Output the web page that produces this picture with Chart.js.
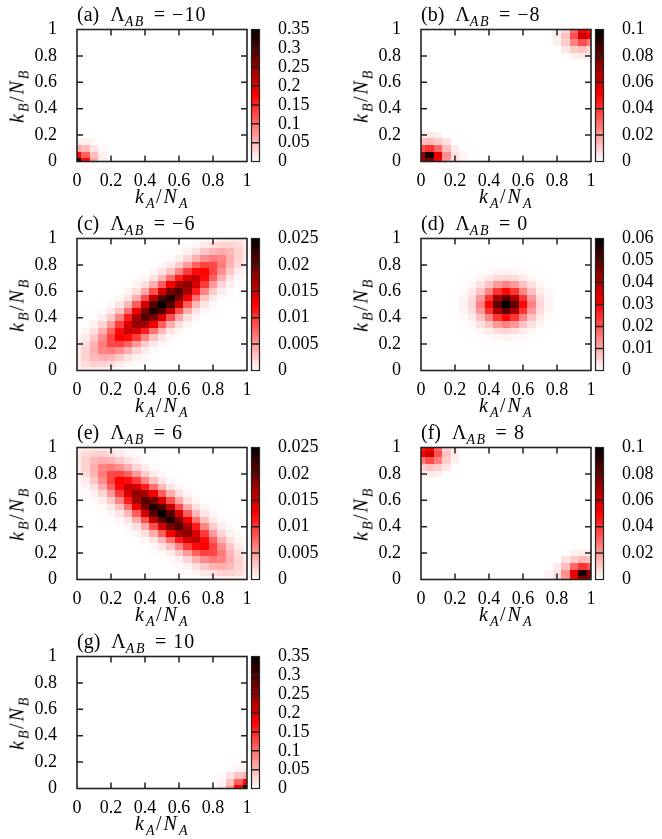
<!DOCTYPE html>
<html>
<head>
<meta charset="utf-8">
<script src="https://cdn.jsdelivr.net/npm/chart.js@4.4.1/dist/chart.umd.min.js"></script>
<style>
    html, body { margin: 0; padding: 0; background: #fff; }
    body { width: 662px; height: 839px; position: relative; overflow: hidden; font-family: "Liberation Serif", serif; color: #000; }
    .panel { position: absolute; height: 209px; }
    .panel canvas { position: absolute; left: 0; top: 0; }
    .ttl, .xl, .yl { position: absolute; font-size: 20px; line-height: 20px; white-space: nowrap; }
    .ttl { left: 77px; top: 4px; }
    .xl { left: 162px; top: 186px; transform: translateX(-50%); letter-spacing: 2px; }
    .yl { left: 18px; top: 96px; transform: translate(-50%, -50%) rotate(-90deg); letter-spacing: 2px; }
    .s { font-size: 14px; position: relative; top: 5px; letter-spacing: 1.5px; }
    .op { margin: 0 7px 0 9px; }
    .tag { margin-right: 6px; }
    .num { letter-spacing: 1px; }
</style>
</head>
<body>
<div id="figure"></div>
<script>
// P(k_A, k_B) maps, N_A = N_B = 20, cells centred on k/N
const gridN = 20;
const axisTicks = [0, 0.2, 0.4, 0.6, 0.8, 1];
const panelTags = ['(a)', '(b)', '(c)', '(d)', '(e)', '(f)', '(g)'];
const lambdaValues = ['−10', '−8', '−6', '0', '6', '8', '10'];

// colour bar ticks per panel
const cbTicksA = [0, 0.05, 0.1, 0.15, 0.2, 0.25, 0.3, 0.35];
const cbTicksB = [0, 0.02, 0.04, 0.06, 0.08, 0.1];
const cbTicksC = [0, 0.005, 0.01, 0.015, 0.02, 0.025];
const cbTicksD = [0, 0.01, 0.02, 0.03, 0.04, 0.05, 0.06];

// sparse cells: [kA index, kB index, P]
const cellsA = [
    [0, 0, 0.35], [1, 0, 0.17], [0, 1, 0.17], [1, 1, 0.11],
    [2, 0, 0.06], [0, 2, 0.06], [2, 1, 0.045], [1, 2, 0.045], [2, 2, 0.02],
    [3, 0, 0.012], [0, 3, 0.012], [3, 1, 0.01], [1, 3, 0.01],
    [3, 2, 0.005], [2, 3, 0.005], [4, 0, 0.003], [0, 4, 0.003]
];
const cellsB = [
    [0, 0, 0.07], [1, 0, 0.075], [0, 1, 0.07], [1, 1, 0.095],
    [2, 0, 0.05], [2, 1, 0.055], [0, 2, 0.035], [1, 2, 0.04], [2, 2, 0.03],
    [3, 0, 0.02], [3, 1, 0.022], [3, 2, 0.013], [0, 3, 0.012], [1, 3, 0.014], [2, 3, 0.01],
    [3, 3, 0.006], [4, 0, 0.006], [4, 1, 0.006], [4, 2, 0.004], [0, 4, 0.004], [1, 4, 0.004],
    [2, 4, 0.003], [5, 0, 0.002], [5, 1, 0.002],
    [19, 19, 0.06], [20, 20, 0.045], [20, 19, 0.05], [19, 20, 0.05],
    [18, 19, 0.035], [19, 18, 0.035], [18, 18, 0.025], [20, 18, 0.025], [18, 20, 0.03],
    [17, 19, 0.012], [19, 17, 0.012], [17, 18, 0.01], [18, 17, 0.01], [17, 20, 0.008], [20, 17, 0.008],
    [16, 19, 0.004], [19, 16, 0.004], [17, 17, 0.005], [16, 20, 0.003], [20, 16, 0.003],
    [16, 18, 0.003], [18, 16, 0.003]
];
const cellsF = [
    [20, 0, 0.07], [19, 0, 0.075], [20, 1, 0.07], [19, 1, 0.095],
    [18, 0, 0.05], [18, 1, 0.055], [20, 2, 0.035], [19, 2, 0.04], [18, 2, 0.03],
    [17, 0, 0.02], [17, 1, 0.022], [17, 2, 0.013], [20, 3, 0.012], [19, 3, 0.014], [18, 3, 0.01],
    [17, 3, 0.006], [16, 0, 0.006], [16, 1, 0.006], [16, 2, 0.004], [20, 4, 0.004], [19, 4, 0.004],
    [18, 4, 0.003], [15, 0, 0.002], [15, 1, 0.002],
    [1, 19, 0.06], [0, 20, 0.045], [0, 19, 0.05], [1, 20, 0.05],
    [2, 19, 0.035], [1, 18, 0.035], [2, 18, 0.025], [0, 18, 0.025], [2, 20, 0.03],
    [3, 19, 0.012], [1, 17, 0.012], [3, 18, 0.01], [2, 17, 0.01], [3, 20, 0.008], [0, 17, 0.008],
    [4, 19, 0.004], [1, 16, 0.004], [3, 17, 0.005], [4, 20, 0.003], [0, 16, 0.003],
    [4, 18, 0.003], [2, 16, 0.003]
];
const cellsG = [
    [20, 0, 0.35], [19, 0, 0.17], [20, 1, 0.17], [19, 1, 0.11],
    [18, 0, 0.06], [20, 2, 0.055], [18, 1, 0.042], [19, 2, 0.042], [18, 2, 0.02],
    [17, 0, 0.011], [20, 3, 0.011], [17, 1, 0.008], [19, 3, 0.008],
    [17, 2, 0.004], [18, 3, 0.004], [16, 0, 0.003], [20, 4, 0.003]
];

// dense rows, kB = 0 (first) .. 20 (last), kA = 0 .. 20
const rowsC = [
    [.0008, .001, .0011, .0009, .0006, .0003, .0001, 0, 0, 0, 0, 0, 0, 0, 0, 0, 0, 0, 0, 0, 0],
    [.001, .0018, .0022, .0022, .0017, .001, .0005, .0002, .0001, 0, 0, 0, 0, 0, 0, 0, 0, 0, 0, 0, 0],
    [.0011, .0022, .0035, .004, .0037, .0027, .0015, .0007, .0003, .0001, 0, 0, 0, 0, 0, 0, 0, 0, 0, 0, 0],
    [.0009, .0022, .004, .006, .0065, .0056, .0039, .0021, .0009, .0003, .0001, 0, 0, 0, 0, 0, 0, 0, 0, 0, 0],
    [.0006, .0017, .0037, .0065, .009, .0092, .0078, .005, .0026, .0011, .0004, .0001, 0, 0, 0, 0, 0, 0, 0, 0, 0],
    [.0003, .001, .0027, .0056, .0092, .0125, .012, .0096, .006, .0031, .0013, .0004, .0001, 0, 0, 0, 0, 0, 0, 0, 0],
    [.0001, .0005, .0015, .0039, .0078, .012, .0155, .0144, .0112, .007, .0036, .0014, .0005, .0001, 0, 0, 0, 0, 0, 0, 0],
    [0, .0002, .0007, .0021, .005, .0096, .0144, .018, .0168, .013, .008, .004, .0016, .0005, .0001, 0, 0, 0, 0, 0, 0],
    [0, .0001, .0003, .0009, .0026, .006, .0112, .0168, .021, .0191, .0146, .0087, .0043, .0016, .0005, .0001, 0, 0, 0, 0, 0],
    [0, 0, .0001, .0003, .0011, .0031, .007, .013, .0191, .0235, .0209, .0155, .0087, .004, .0014, .0004, .0001, 0, 0, 0, 0],
    [0, 0, 0, .0001, .0004, .0013, .0036, .008, .0146, .0209, .025, .0209, .0146, .008, .0036, .0013, .0004, .0001, 0, 0, 0],
    [0, 0, 0, 0, .0001, .0004, .0014, .004, .0087, .0155, .0209, .0235, .0191, .013, .007, .0031, .0011, .0003, .0001, 0, 0],
    [0, 0, 0, 0, 0, .0001, .0005, .0016, .0043, .0087, .0146, .0191, .021, .0168, .0112, .006, .0026, .0009, .0003, .0001, 0],
    [0, 0, 0, 0, 0, 0, .0001, .0005, .0016, .004, .008, .013, .0168, .018, .0144, .0096, .005, .0021, .0007, .0002, 0],
    [0, 0, 0, 0, 0, 0, 0, .0001, .0005, .0014, .0036, .007, .0112, .0144, .0155, .012, .0078, .0039, .0015, .0005, .0001],
    [0, 0, 0, 0, 0, 0, 0, 0, .0001, .0004, .0013, .0031, .006, .0096, .012, .0125, .0092, .0056, .0027, .001, .0003],
    [0, 0, 0, 0, 0, 0, 0, 0, 0, .0001, .0004, .0011, .0026, .005, .0078, .0092, .009, .0065, .0037, .0017, .0006],
    [0, 0, 0, 0, 0, 0, 0, 0, 0, 0, .0001, .0003, .0009, .0021, .0039, .0056, .0065, .006, .004, .0022, .0009],
    [0, 0, 0, 0, 0, 0, 0, 0, 0, 0, 0, .0001, .0003, .0007, .0015, .0027, .0037, .004, .0035, .0022, .0011],
    [0, 0, 0, 0, 0, 0, 0, 0, 0, 0, 0, 0, .0001, .0002, .0005, .001, .0017, .0022, .0022, .0018, .001],
    [0, 0, 0, 0, 0, 0, 0, 0, 0, 0, 0, 0, 0, 0, .0001, .0003, .0006, .0009, .0011, .001, .0008]
];
const rowsE = [
    [0, 0, 0, 0, 0, 0, 0, 0, 0, 0, 0, 0, 0, 0, .0001, .0003, .0006, .0009, .0011, .001, .0008],
    [0, 0, 0, 0, 0, 0, 0, 0, 0, 0, 0, 0, .0001, .0002, .0005, .001, .0017, .0022, .0022, .0018, .001],
    [0, 0, 0, 0, 0, 0, 0, 0, 0, 0, 0, .0001, .0003, .0007, .0015, .0027, .0037, .004, .0035, .0022, .0011],
    [0, 0, 0, 0, 0, 0, 0, 0, 0, 0, .0001, .0003, .0009, .0021, .0039, .0056, .0065, .006, .004, .0022, .0009],
    [0, 0, 0, 0, 0, 0, 0, 0, 0, .0001, .0004, .0011, .0026, .005, .0078, .0092, .009, .0065, .0037, .0017, .0006],
    [0, 0, 0, 0, 0, 0, 0, 0, .0001, .0004, .0013, .0031, .006, .0096, .012, .0125, .0092, .0056, .0027, .001, .0003],
    [0, 0, 0, 0, 0, 0, 0, .0001, .0005, .0014, .0036, .007, .0112, .0144, .0155, .012, .0078, .0039, .0015, .0005, .0001],
    [0, 0, 0, 0, 0, 0, .0001, .0005, .0016, .004, .008, .013, .0168, .018, .0144, .0096, .005, .0021, .0007, .0002, 0],
    [0, 0, 0, 0, 0, .0001, .0005, .0016, .0043, .0087, .0146, .0191, .021, .0168, .0112, .006, .0026, .0009, .0003, .0001, 0],
    [0, 0, 0, 0, .0001, .0004, .0014, .004, .0087, .0155, .0209, .0235, .0191, .013, .007, .0031, .0011, .0003, .0001, 0, 0],
    [0, 0, 0, .0001, .0004, .0013, .0036, .008, .0146, .0209, .025, .0209, .0146, .008, .0036, .0013, .0004, .0001, 0, 0, 0],
    [0, 0, .0001, .0003, .0011, .0031, .007, .013, .0191, .0235, .0209, .0155, .0087, .004, .0014, .0004, .0001, 0, 0, 0, 0],
    [0, .0001, .0003, .0009, .0026, .006, .0112, .0168, .021, .0191, .0146, .0087, .0043, .0016, .0005, .0001, 0, 0, 0, 0, 0],
    [0, .0002, .0007, .0021, .005, .0096, .0144, .018, .0168, .013, .008, .004, .0016, .0005, .0001, 0, 0, 0, 0, 0, 0],
    [.0001, .0005, .0015, .0039, .0078, .012, .0155, .0144, .0112, .007, .0036, .0014, .0005, .0001, 0, 0, 0, 0, 0, 0, 0],
    [.0003, .001, .0027, .0056, .0092, .0125, .012, .0096, .006, .0031, .0013, .0004, .0001, 0, 0, 0, 0, 0, 0, 0, 0],
    [.0006, .0017, .0037, .0065, .009, .0092, .0078, .005, .0026, .0011, .0004, .0001, 0, 0, 0, 0, 0, 0, 0, 0, 0],
    [.0009, .0022, .004, .006, .0065, .0056, .0039, .0021, .0009, .0003, .0001, 0, 0, 0, 0, 0, 0, 0, 0, 0, 0],
    [.0011, .0022, .0035, .004, .0037, .0027, .0015, .0007, .0003, .0001, 0, 0, 0, 0, 0, 0, 0, 0, 0, 0, 0],
    [.001, .0018, .0022, .0022, .0017, .001, .0005, .0002, .0001, 0, 0, 0, 0, 0, 0, 0, 0, 0, 0, 0, 0],
    [.0008, .001, .0011, .0009, .0006, .0003, .0001, 0, 0, 0, 0, 0, 0, 0, 0, 0, 0, 0, 0, 0, 0]
];
// panel (d): block for kA, kB = 5 .. 15
const blockDStart = 5;
const rowsD = [
    [0, .0001, .0004, .0007, .0012, .0015, .0012, .0007, .0004, .0001, 0],
    [.0001, .0004, .0012, .0024, .004, .0049, .004, .0024, .0012, .0004, .0001],
    [.0004, .0012, .0036, .0072, .012, .0147, .012, .0072, .0036, .0012, .0004],
    [.0007, .0024, .0072, .0144, .024, .0294, .024, .0144, .0072, .0024, .0007],
    [.0012, .004, .012, .024, .04, .049, .04, .024, .012, .004, .0012],
    [.0015, .0049, .0147, .0294, .049, .06, .049, .0294, .0147, .0049, .0015],
    [.0012, .004, .012, .024, .04, .049, .04, .024, .012, .004, .0012],
    [.0007, .0024, .0072, .0144, .024, .0294, .024, .0144, .0072, .0024, .0007],
    [.0004, .0012, .0036, .0072, .012, .0147, .012, .0072, .0036, .0012, .0004],
    [.0001, .0004, .0012, .0024, .004, .0049, .004, .0024, .0012, .0004, .0001],
    [0, .0001, .0004, .0007, .0012, .0015, .0012, .0007, .0004, .0001, 0]
];

// plot box inside each panel
const plotTop = 29.5;
const plotLeft = 77;
const plotRight = 247;
const plotBottom = 161.5;

Chart.defaults.font.family = '"Liberation Serif", serif';
Chart.defaults.font.size = 18;
Chart.defaults.color = '#000';

function fromCells(cells) {
    return cells.map(([i, j, p]) => ({ x: i / gridN, y: j / gridN, v: p }));
}

function fromRows(rows, start) {
    const pts = [];
    rows.forEach((row, r) => {
        row.forEach((p, c) => {
            if (p > 0) pts.push({ x: (start + c) / gridN, y: (start + r) / gridN, v: p });
        });
    });
    return pts;
}

// white -> red -> black
function heatColor(t) {
    t = Math.max(0, Math.min(1, t));
    if (t < 0.5) {
        const c = Math.round(255 * (1 - 2 * t));
        return `rgb(255,${c},${c})`;
    }
    const r = Math.round(255 * (2 - 2 * t));
    return `rgb(${r},0,0)`;
}

function fmt(v) {
    return String(+Number(v).toFixed(4));
}

const heatPlugin = {
    id: 'heat',
    beforeDatasetsDraw(chart, args, opts) {
        const { ctx, chartArea: a, scales: { x, y } } = chart;
        const half = 0.5 / gridN;
        ctx.save();
        ctx.beginPath();
        ctx.rect(a.left, a.top, a.width, a.height);
        ctx.clip();
        chart.data.datasets[0].data.forEach(p => {
            const x0 = Math.round(x.getPixelForValue(p.x - half));
            const x1 = Math.round(x.getPixelForValue(p.x + half));
            const y0 = Math.round(y.getPixelForValue(p.y + half));
            const y1 = Math.round(y.getPixelForValue(p.y - half));
            ctx.fillStyle = heatColor(p.v / opts.max);
            ctx.fillRect(x0, y0, x1 - x0, y1 - y0);
        });
        ctx.restore();
    }
};

const framePlugin = {
    id: 'frame',
    afterDatasetsDraw(chart) {
        const { ctx, chartArea: a, scales: { x, y, cb } } = chart;
        const tl = 6;
        ctx.save();
        ctx.strokeStyle = '#222';
        ctx.lineWidth = 1.5;
        ctx.beginPath();
        x.ticks.forEach(t => {
            if (t.value <= 0 || t.value >= 1) return;
            const px = x.getPixelForValue(t.value);
            ctx.moveTo(px, a.bottom); ctx.lineTo(px, a.bottom - tl);
            ctx.moveTo(px, a.top); ctx.lineTo(px, a.top + tl);
        });
        y.ticks.forEach(t => {
            if (t.value <= 0 || t.value >= 1) return;
            const py = y.getPixelForValue(t.value);
            ctx.moveTo(a.left, py); ctx.lineTo(a.left + tl, py);
            ctx.moveTo(a.right, py); ctx.lineTo(a.right - tl, py);
        });
        ctx.stroke();
        ctx.lineWidth = 1.6;
        ctx.strokeRect(a.left, a.top, a.width, a.height);

        // colour bar
        const bx = a.right + 4.5, bw = 8;
        const grad = ctx.createLinearGradient(0, cb.bottom, 0, cb.top);
        grad.addColorStop(0, '#ffffff');
        grad.addColorStop(0.5, '#ff0000');
        grad.addColorStop(1, '#000000');
        ctx.fillStyle = grad;
        ctx.fillRect(bx, cb.top, bw, cb.bottom - cb.top);
        ctx.lineWidth = 1.5;
        ctx.beginPath();
        cb.ticks.forEach(t => {
            const py = cb.getPixelForValue(t.value);
            if (py <= cb.top + 0.5 || py >= cb.bottom - 0.5) return;
            ctx.moveTo(bx, py); ctx.lineTo(bx + bw, py);
        });
        ctx.stroke();
        ctx.lineWidth = 1.2;
        ctx.strokeRect(bx, cb.top, bw, cb.bottom - cb.top);
        ctx.restore();
    }
};

function makePanel(index, points, cbTicks, col, row) {
    const canvasW = col === 0 ? 340 : 318;
    const wrap = document.createElement('div');
    wrap.className = 'panel';
    wrap.style.left = (col * 344) + 'px';
    wrap.style.top = (row * 209) + 'px';
    wrap.style.width = canvasW + 'px';
    wrap.innerHTML =
        `<canvas width="${canvasW}" height="209"></canvas>` +
        `<div class="ttl"><span class="tag">${panelTags[index]}</span> Λ<span class="s"><i>AB</i></span><span class="op">=</span><span class="num">${lambdaValues[index]}</span></div>` +
        `<div class="xl"><i>k</i><span class="s"><i>A</i></span>/<i>N</i><span class="s"><i>A</i></span></div>` +
        `<div class="yl"><i>k</i><span class="s"><i>B</i></span>/<i>N</i><span class="s"><i>B</i></span></div>`;
    document.getElementById('figure').appendChild(wrap);

    const cbMax = cbTicks[cbTicks.length - 1];
    const tickFont = { family: '"Liberation Serif", serif', size: 18 };

    return new Chart(wrap.querySelector('canvas'), {
        type: 'scatter',
        data: {
            datasets: [{ data: points, pointRadius: 0, pointHoverRadius: 0, pointBorderWidth: 0 }]
        },
        options: {
            responsive: false,
            animation: false,
            events: [],
            layout: { autoPadding: false, padding: { top: plotTop, left: 0, right: 0, bottom: 0 } },
            plugins: {
                legend: { display: false },
                tooltip: { enabled: false },
                heat: { max: cbMax }
            },
            scales: {
                x: {
                    type: 'linear', min: 0, max: 1,
                    grid: { display: false }, border: { display: false },
                    afterBuildTicks: s => { s.ticks = axisTicks.map(v => ({ value: v })); },
                    afterFit: s => { s.height = 209 - plotBottom; },
                    ticks: { padding: 1, autoSkip: false, maxRotation: 0, callback: fmt, font: tickFont }
                },
                y: {
                    type: 'linear', min: 0, max: 1,
                    grid: { display: false }, border: { display: false },
                    afterBuildTicks: s => { s.ticks = axisTicks.map(v => ({ value: v })); },
                    afterFit: s => { s.width = plotLeft; },
                    ticks: { padding: 12, autoSkip: false, callback: fmt, font: tickFont }
                },
                cb: {
                    type: 'linear', position: 'right', axis: 'y', min: 0, max: cbMax,
                    // invisible tick marks push the labels past the colour bar
                    grid: { display: true, drawOnChartArea: false, drawTicks: true, tickLength: 28, tickColor: 'rgba(0,0,0,0)' },
                    border: { display: false },
                    afterBuildTicks: s => { s.ticks = cbTicks.map(v => ({ value: v })); },
                    afterFit: s => { s.width = canvasW - plotRight; },
                    ticks: { padding: 3, autoSkip: false, callback: fmt, font: tickFont }
                }
            }
        },
        plugins: [heatPlugin, framePlugin]
    });
}

makePanel(0, fromCells(cellsA), cbTicksA, 0, 0);
makePanel(1, fromCells(cellsB), cbTicksB, 1, 0);
makePanel(2, fromRows(rowsC, 0), cbTicksC, 0, 1);
makePanel(3, fromRows(rowsD, blockDStart), cbTicksD, 1, 1);
makePanel(4, fromRows(rowsE, 0), cbTicksC, 0, 2);
makePanel(5, fromCells(cellsF), cbTicksB, 1, 2);
makePanel(6, fromCells(cellsG), cbTicksA, 0, 3);
</script>
</body>
</html>
